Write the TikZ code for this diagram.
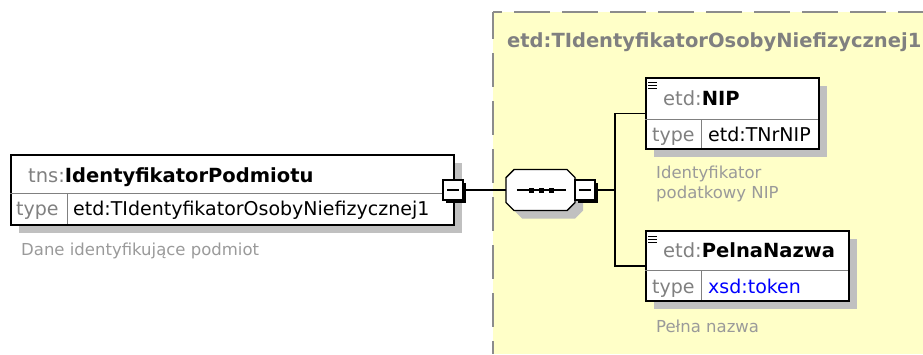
\documentclass[tikz,border=0pt]{standalone}
\usepackage{fontspec}
\setmainfont{DejaVu Sans}
\usetikzlibrary{positioning,shadows}
\definecolor{bgyellow}{HTML}{FFFFC8}
\definecolor{shadowgray}{HTML}{C0C0C0}
\definecolor{bordergray}{HTML}{8C8C8C}
\definecolor{typegray}{HTML}{808080}
\definecolor{docgray}{HTML}{9A9A9A}
\definecolor{xsdblue}{HTML}{0000FF}

\begin{document}
\begin{tikzpicture}[x=1pt, y=-1pt]
    \tikzset{
      elem/.style={draw=black, line width=1.6pt, fill=white, anchor=north west, inner sep=0pt,
        drop shadow={shadow xshift=8pt, shadow yshift=-8pt, fill=shadowgray, opacity=1}},
      sep/.style={draw=typegray, line width=1pt},
      hdr/.style={anchor=base west, inner sep=0pt, font={\fontsize{19.5pt}{22pt}\selectfont}},
      typ/.style={anchor=base west, inner sep=0pt, font={\fontsize{19pt}{22pt}\selectfont}},
      doc/.style={anchor=base west, inner sep=0pt, text=docgray, font={\fontsize{16.5pt}{20pt}\selectfont}},
      minusbox/.style={draw=black, line width=1.4pt, fill=white, minimum size=20pt, inner sep=0pt,
        drop shadow={shadow xshift=3pt, shadow yshift=-3pt, fill=black, opacity=1},
        path picture={\draw[line width=1.4pt] ([xshift=4pt]path picture bounding box.west) -- ([xshift=-4pt]path picture bounding box.east);}},
      conn/.style={draw=black, line width=1.6pt},
    }
    \useasboundingbox (0,0) rectangle (923,354);

    % complex type
    \fill[bgyellow] (493,12) rectangle (923,354);
    \draw[bordergray, line width=2pt, dash pattern=on 36pt off 12pt, dash phase=27pt] (493,12) -- (923,12);
    \draw[bordergray, line width=2pt, dash pattern=on 34pt off 14pt, dash phase=7pt] (493,12) -- (493,354);
    \node[hdr, text=typegray] (ctype) at (507,47) {\textbf{etd:TIdentyfikatorOsobyNiefizycznej1}};

    % root element
    \node[elem, minimum width=443pt, minimum height=70pt] (podmiot) at (10,154) {};
    \draw[sep] (10,193) -- (453,193) (67,193) -- (67,224);
    \node[hdr] (podmiotname) at (28,182) {\textcolor{typegray}{tns:}\textbf{IdentyfikatorPodmiotu}};
    \node[typ, text=typegray] (podmiottype) at (16,215) {type};
    \node[typ] (podmiotval) at (73,215) {etd:TIdentyfikatorOsobyNiefizycznej1};
    \node[doc] (podmiotdoc) at (21,255) {Dane identyfikujące podmiot};
    \node[minusbox] (podmiotminus) at (453,190) {};

    % sequence
    \node[minimum width=69pt, minimum height=41pt, inner sep=0pt] (seq) at (540.5,190) {};
    \fill[shadowgray, shift={(8,8)}] (506,177.5) -- (514,169.5) -- (567,169.5) -- (575,177.5)
      -- (575,202.5) -- (567,210.5) -- (514,210.5) -- (506,202.5) -- cycle;
    \filldraw[fill=white, line width=1.4pt] (506,177.5) -- (514,169.5) -- (567,169.5) -- (575,177.5)
      -- (575,202.5) -- (567,210.5) -- (514,210.5) -- (506,202.5) -- cycle;
    \draw[line width=1.4pt] ([xshift=11pt]seq.west) -- ([xshift=-9pt]seq.east);
    \foreach \sx in {531,541,551}
      \fill (\sx-2.5,187.5) rectangle (\sx+2.5,192.5);
    \node[minusbox] (seqminus) at (585,190) {};

    % children
    \node[elem, minimum width=173pt, minimum height=71pt] (nip) at (645,77) {};
    \draw[sep] (645,119) -- (818,119) (701,119) -- (701,148);
    \foreach \iy in {0,3,6}
      \draw[line width=1pt] (648,82+\iy) -- (657,82+\iy);
    \node[hdr] (nipname) at (663,105) {\textcolor{typegray}{etd:}\textbf{NIP}};
    \node[typ, text=typegray] (niptype) at (652,141) {type};
    \node[typ] (nipval) at (708,141) {etd:TNrNIP};
    \node[doc] (nipdoc) at (656,178) {Identyfikator};
    \node[doc] (nipdoc2) at (656,198) {podatkowy NIP};

    \node[elem, minimum width=203pt, minimum height=70pt] (pelna) at (645,230) {};
    \draw[sep] (645,270) -- (848,270) (701,270) -- (701,300);
    \foreach \iy in {0,3,6}
      \draw[line width=1pt] (648,236+\iy) -- (657,236+\iy);
    \node[hdr] (pelnaname) at (663,257) {\textcolor{typegray}{etd:}\textbf{PelnaNazwa}};
    \node[typ, text=typegray] (pelnatype) at (652,293) {type};
    \node[typ, text=xsdblue] (pelnaval) at (708,293) {xsd:token};
    \node[doc] (pelnadoc) at (656,332) {Pełna nazwa};

    % connectors
    \coordinate (fork) at (615,190);
    \draw[conn] (podmiotminus.east) -- (seq.west);
    \draw[conn] (seqminus.east) -- (fork);
    \draw[conn] (fork) |- (nip.west);
    \draw[conn] (fork) |- (pelna.west);
\end{tikzpicture}
\end{document}
